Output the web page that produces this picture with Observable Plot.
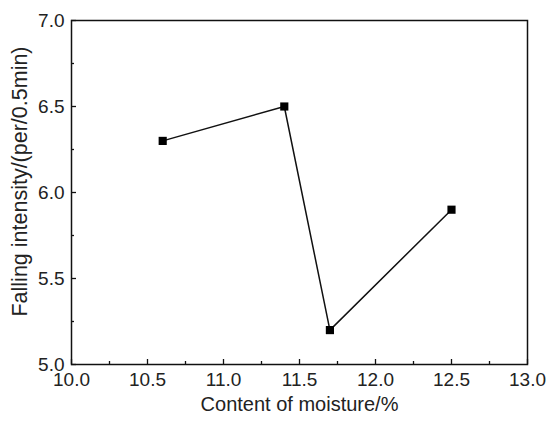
<!DOCTYPE html>
<html>
<head>
<meta charset="utf-8">
<script src="https://cdn.jsdelivr.net/npm/d3@7"></script>
<script src="https://cdn.jsdelivr.net/npm/@observablehq/plot@0.6"></script>
<style>
  html, body { margin: 0; padding: 0; background: #fff; }
  svg { display: block; }
</style>
</head>
<body>
<div id="chart"></div>
<script>
const moisture = [10.6, 11.4, 11.7, 12.5];
const intensity = [6.3, 6.5, 5.2, 5.9];
const xMajorTicks = [10.0, 10.5, 11.0, 11.5, 12.0, 12.5, 13.0];
const xMinorTicks = [10.25, 10.75, 11.25, 11.75, 12.25, 12.75];
const yMajorTicks = [5.0, 5.5, 6.0, 6.5, 7.0];
const yMinorTicks = [5.25, 5.75, 6.25, 6.75];
const xTitle = "Content of moisture/%";
const yTitle = "Falling intensity/(per/0.5min)";

const data = moisture.map((m, i) => ({x: m, y: intensity[i]}));
const font = "Liberation Sans, Arial, Helvetica, sans-serif";

const chart = Plot.plot({
  width: 548,
  height: 421,
  marginLeft: 71,
  marginRight: 21,
  marginTop: 20,
  marginBottom: 57,
  style: {fontFamily: font, fontSize: "18px", color: "#222", background: "#fff"},
  x: {domain: [10, 13]},
  y: {domain: [5, 7]},
  marks: [
    Plot.frame({stroke: "#111", strokeWidth: 1.5}),
    Plot.axisX(xMajorTicks, {anchor: "bottom", tickSize: -5, tickPadding: 13, tickFormat: d => d.toFixed(1), label: null, strokeWidth: 1.3, stroke: "#111", fontSize: 19, fill: "#222"}),
    Plot.axisX(xMinorTicks, {anchor: "bottom", tickSize: -3, tickFormat: () => "", label: null, strokeWidth: 1.3, stroke: "#111"}),
    Plot.axisY(yMajorTicks, {anchor: "left", tickSize: -5, tickPadding: 12, tickFormat: d => d.toFixed(1), label: null, strokeWidth: 1.3, stroke: "#111", fontSize: 19, fill: "#222"}),
    Plot.axisY(yMinorTicks, {anchor: "left", tickSize: -3, tickFormat: () => "", label: null, strokeWidth: 1.3, stroke: "#111"}),
    Plot.text([xTitle], {frameAnchor: "bottom", dy: 46, fontSize: 20, fill: "#222"}),
    Plot.text([yTitle], {frameAnchor: "left", textAnchor: "middle", rotate: -90, dx: -51, dy: -11, fontSize: 21.5, fill: "#222"}),
    Plot.line(data, {x: "x", y: "y", stroke: "#111", strokeWidth: 1.5}),
    Plot.dot(data, {x: "x", y: "y", symbol: "square", r: 4.6, fill: "#000", stroke: "none"})
  ]
});
document.getElementById("chart").appendChild(chart);
</script>
</body>
</html>
